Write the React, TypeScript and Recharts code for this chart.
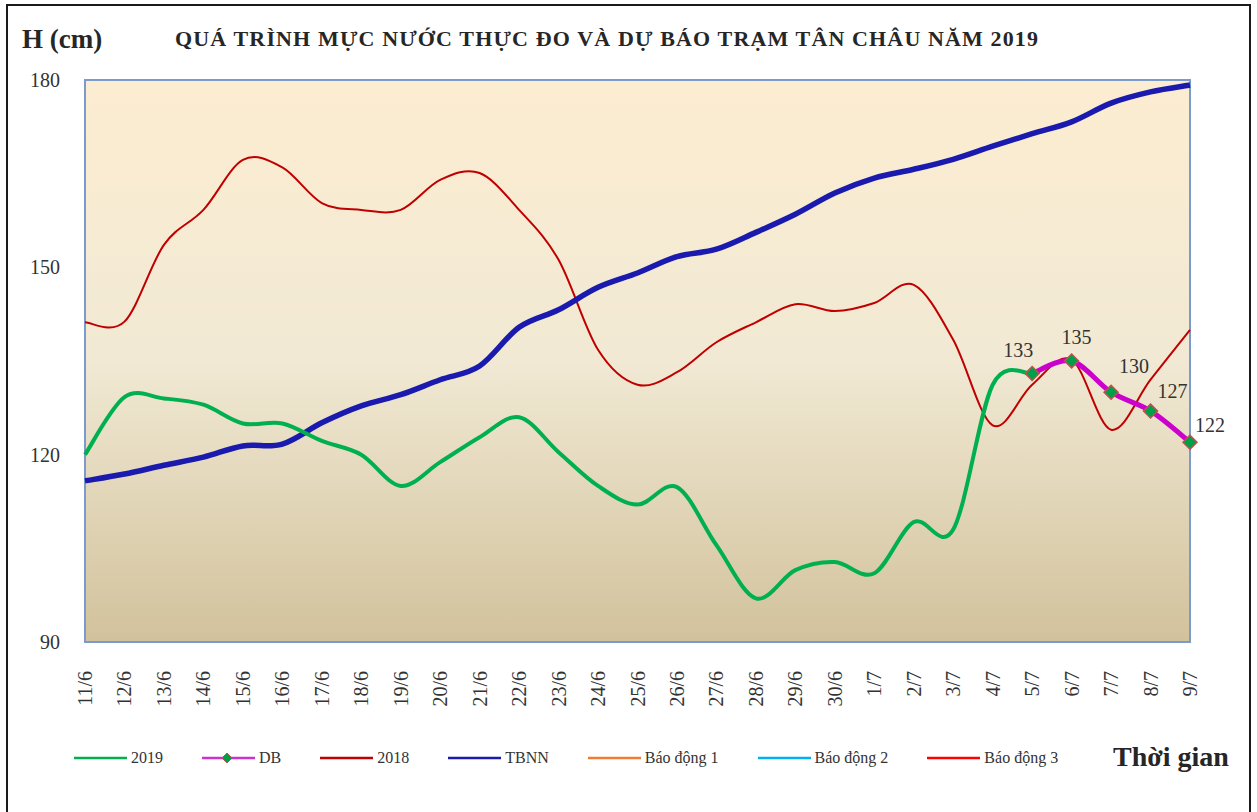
import { LineChart, Line, XAxis, YAxis, ReferenceArea, LabelList } from "recharts";

const days = [
  "11/6", "12/6", "13/6", "14/6", "15/6", "16/6", "17/6", "18/6", "19/6", "20/6",
  "21/6", "22/6", "23/6", "24/6", "25/6", "26/6", "27/6", "28/6", "29/6", "30/6",
  "1/7", "2/7", "3/7", "4/7", "5/7", "6/7", "7/7", "8/7", "9/7",
];

const h2019 = [
  120, 129.2, 129, 128, 125, 125, 122.2, 120, 115, 118.8,
  122.8, 126, 120.4, 115, 112, 114.8, 105.5, 97, 101.5, 102.8,
  101, 109.2, 108, 131.2, 133, null, null, null, null,
];

const hDB = [
  null, null, null, null, null, null, null, null, null, null,
  null, null, null, null, null, null, null, null, null, null,
  null, null, null, null, 133, 135, 130, 127, 122,
];

const h2018 = [
  141.2, 141.3, 153.6, 159.2, 167.2, 166, 160.3, 159.2, 159.2, 164,
  165.1, 159.2, 151.2, 136.8, 131.2, 133.2, 138, 141.2, 144.1, 143,
  144.3, 147.2, 138.4, 124.7, 131.2, 135.2, 124, 132, 140,
];

const hTBNN = [
  115.8, 116.9, 118.3, 119.6, 121.4, 121.7, 125.1, 127.8, 129.6, 132,
  134.2, 140.4, 143.2, 146.8, 149.1, 151.7, 152.9, 155.6, 158.5, 161.9,
  164.3, 165.7, 167.3, 169.4, 171.4, 173.3, 176.3, 178.1, 179.2,
];

const yTicks = [90, 120, 150, 180];

const legendItems = [
  { name: "2019", color: "#00B050", marker: false },
  { name: "DB", color: "#CC33CC", marker: true },
  { name: "2018", color: "#C00000", marker: false },
  { name: "TBNN", color: "#1A1AAE", marker: false },
  { name: "Báo động 1", color: "#ED7D31", marker: false },
  { name: "Báo động 2", color: "#00B0F0", marker: false },
  { name: "Báo động 3", color: "#FF0000", marker: false },
];

const data = days.map((d, i) => ({
  day: d,
  y2019: h2019[i],
  db: hDB[i],
  y2018: h2018[i],
  tbnn: hTBNN[i],
}));

// label nudges for the forecast values, like the original
const labelShift: Record<string, [number, number]> = {
  "5/7": [-14, -21],
  "6/7": [5, -22],
  "7/7": [23, -24],
  "8/7": [22, -18],
  "9/7": [20, -15],
};

const serif = "'Liberation Serif', 'Times New Roman', serif";

// smooth curve similar to excel's smoothed lines
const smooth = (context: any) => {
  let pts: number[][] = [];
  return {
    areaStart() {},
    areaEnd() {},
    lineStart() {
      pts = [];
    },
    point(x: number, y: number) {
      pts.push([+x, +y]);
    },
    lineEnd() {
      if (!pts.length) return;
      context.moveTo(pts[0][0], pts[0][1]);
      for (let i = 0; i < pts.length - 1; i++) {
        const p0 = pts[i - 1] || pts[i];
        const p1 = pts[i];
        const p2 = pts[i + 1];
        const p3 = pts[i + 2] || p2;
        context.bezierCurveTo(
          p1[0] + (p2[0] - p0[0]) / 6,
          p1[1] + (p2[1] - p0[1]) / 6,
          p2[0] - (p3[0] - p1[0]) / 6,
          p2[1] - (p3[1] - p1[1]) / 6,
          p2[0],
          p2[1]
        );
      }
    },
  };
};

const Diamond = (props: any) => {
  const { cx, cy, value } = props;
  if (value == null || cx == null || cy == null) return null;
  const r = 7;
  return (
    <path
      d={`M${cx},${cy - r}L${cx + r},${cy}L${cx},${cy + r}L${cx - r},${cy}Z`}
      fill="#00A04A"
      stroke="#C0504D"
      strokeWidth={1.5}
    />
  );
};

const XTick = (props: any) => {
  const { x, y, payload } = props;
  return (
    <text
      x={x}
      y={y + 21}
      transform={`rotate(-90, ${x}, ${y + 21})`}
      textAnchor="end"
      dy="0.35em"
      fontFamily={serif}
      fontSize={20}
      fill="#333"
    >
      {payload.value}
    </text>
  );
};

const DbLabel = (props: any) => {
  const { x, y, value, index } = props;
  if (value == null) return null;
  const [dx, dy] = labelShift[days[index]] || [0, -18];
  return (
    <text
      x={x + dx}
      y={y + dy}
      textAnchor="middle"
      dominantBaseline="middle"
      fontFamily={serif}
      fontSize={20}
      fill="#333"
    >
      {value}
    </text>
  );
};

export default function App() {
  return (
    <div
      style={{
        position: "absolute",
        left: 0,
        top: 0,
        width: 1257,
        height: 812,
        overflow: "hidden",
        background: "#fff",
        fontFamily: serif,
      }}
    >
      {/* outer frame */}
      <div
        style={{
          position: "absolute",
          left: 6,
          top: 4,
          width: 1241,
          height: 840,
          border: "2px solid #1a1a1a",
        }}
      />
      <div
        style={{
          position: "absolute",
          left: 22,
          top: 24,
          fontSize: 27,
          fontWeight: "bold",
          color: "#262626",
          whiteSpace: "nowrap",
        }}
      >
        H (cm)
      </div>
      <svg style={{ position: "absolute", left: 0, top: 0 }} width={1257} height={60}>
        <text
          x={175}
          y={46}
          textLength={863}
          lengthAdjust="spacing"
          fontFamily={serif}
          fontSize={22}
          fontWeight="bold"
          fill="#262626"
        >
          QUÁ TRÌNH MỰC NƯỚC THỰC ĐO VÀ DỰ BÁO TRẠM TÂN CHÂU NĂM 2019
        </text>
      </svg>

      <div style={{ position: "absolute", left: 0, top: 0 }}>
        <LineChart
          width={1257}
          height={812}
          data={data}
          margin={{ top: 80, right: 67, left: 0, bottom: 0 }}
        >
          <defs>
            <linearGradient id="plotBg" x1="0" y1="0" x2="0" y2="1">
              <stop offset="0%" stopColor="#FCEDD1" />
              <stop offset="50%" stopColor="#F1E9D4" />
              <stop offset="100%" stopColor="#D2C29C" />
            </linearGradient>
          </defs>
          <XAxis
            dataKey="day"
            height={170}
            interval={0}
            axisLine={false}
            tickLine={false}
            tick={<XTick />}
          />
          <YAxis
            width={85}
            domain={[90, 180]}
            ticks={yTicks}
            axisLine={false}
            tickLine={false}
            tickSize={0}
            tickMargin={25}
            tick={{ fontFamily: serif, fontSize: 20, fill: "#333" }}
          />
          <ReferenceArea
            x1="11/6"
            x2="9/7"
            y1={90}
            y2={180}
            fill="url(#plotBg)"
            fillOpacity={1}
            stroke="#7A9BCB"
            strokeWidth={2}
          />
          <Line
            dataKey="y2018"
            type={smooth as any}
            stroke="#C00000"
            strokeWidth={2}
            dot={false}
            isAnimationActive={false}
          />
          <Line
            dataKey="tbnn"
            type={smooth as any}
            stroke="#1A1AAE"
            strokeWidth={5.5}
            dot={false}
            isAnimationActive={false}
          />
          <Line
            dataKey="y2019"
            type={smooth as any}
            stroke="#00B050"
            strokeWidth={4}
            dot={false}
            isAnimationActive={false}
          />
          <Line
            dataKey="db"
            type={smooth as any}
            stroke="#CC00CC"
            strokeWidth={5}
            dot={<Diamond />}
            isAnimationActive={false}
          >
            <LabelList dataKey="db" content={<DbLabel />} />
          </Line>
        </LineChart>
      </div>

      {/* legend */}
      <div
        style={{
          position: "absolute",
          left: 74,
          top: 748,
          display: "flex",
          alignItems: "center",
          fontSize: 16,
          color: "#333",
          whiteSpace: "nowrap",
        }}
      >
        {legendItems.map((it) => (
          <div key={it.name} style={{ display: "flex", alignItems: "center", marginRight: 39 }}>
            <svg width={53} height={20} style={{ marginRight: 4 }}>
              <line x1={0} y1={10} x2={53} y2={10} stroke={it.color} strokeWidth={2.5} />
              {it.marker && (
                <path d="M25,5L30,10L25,15L20,10Z" fill="#00A04A" stroke="#C0504D" strokeWidth={1} />
              )}
            </svg>
            <span>{it.name}</span>
          </div>
        ))}
      </div>
      <div
        style={{
          position: "absolute",
          left: 1113,
          top: 741,
          fontSize: 28,
          fontWeight: "bold",
          color: "#262626",
          whiteSpace: "nowrap",
        }}
      >
        Thời gian
      </div>
    </div>
  );
}
